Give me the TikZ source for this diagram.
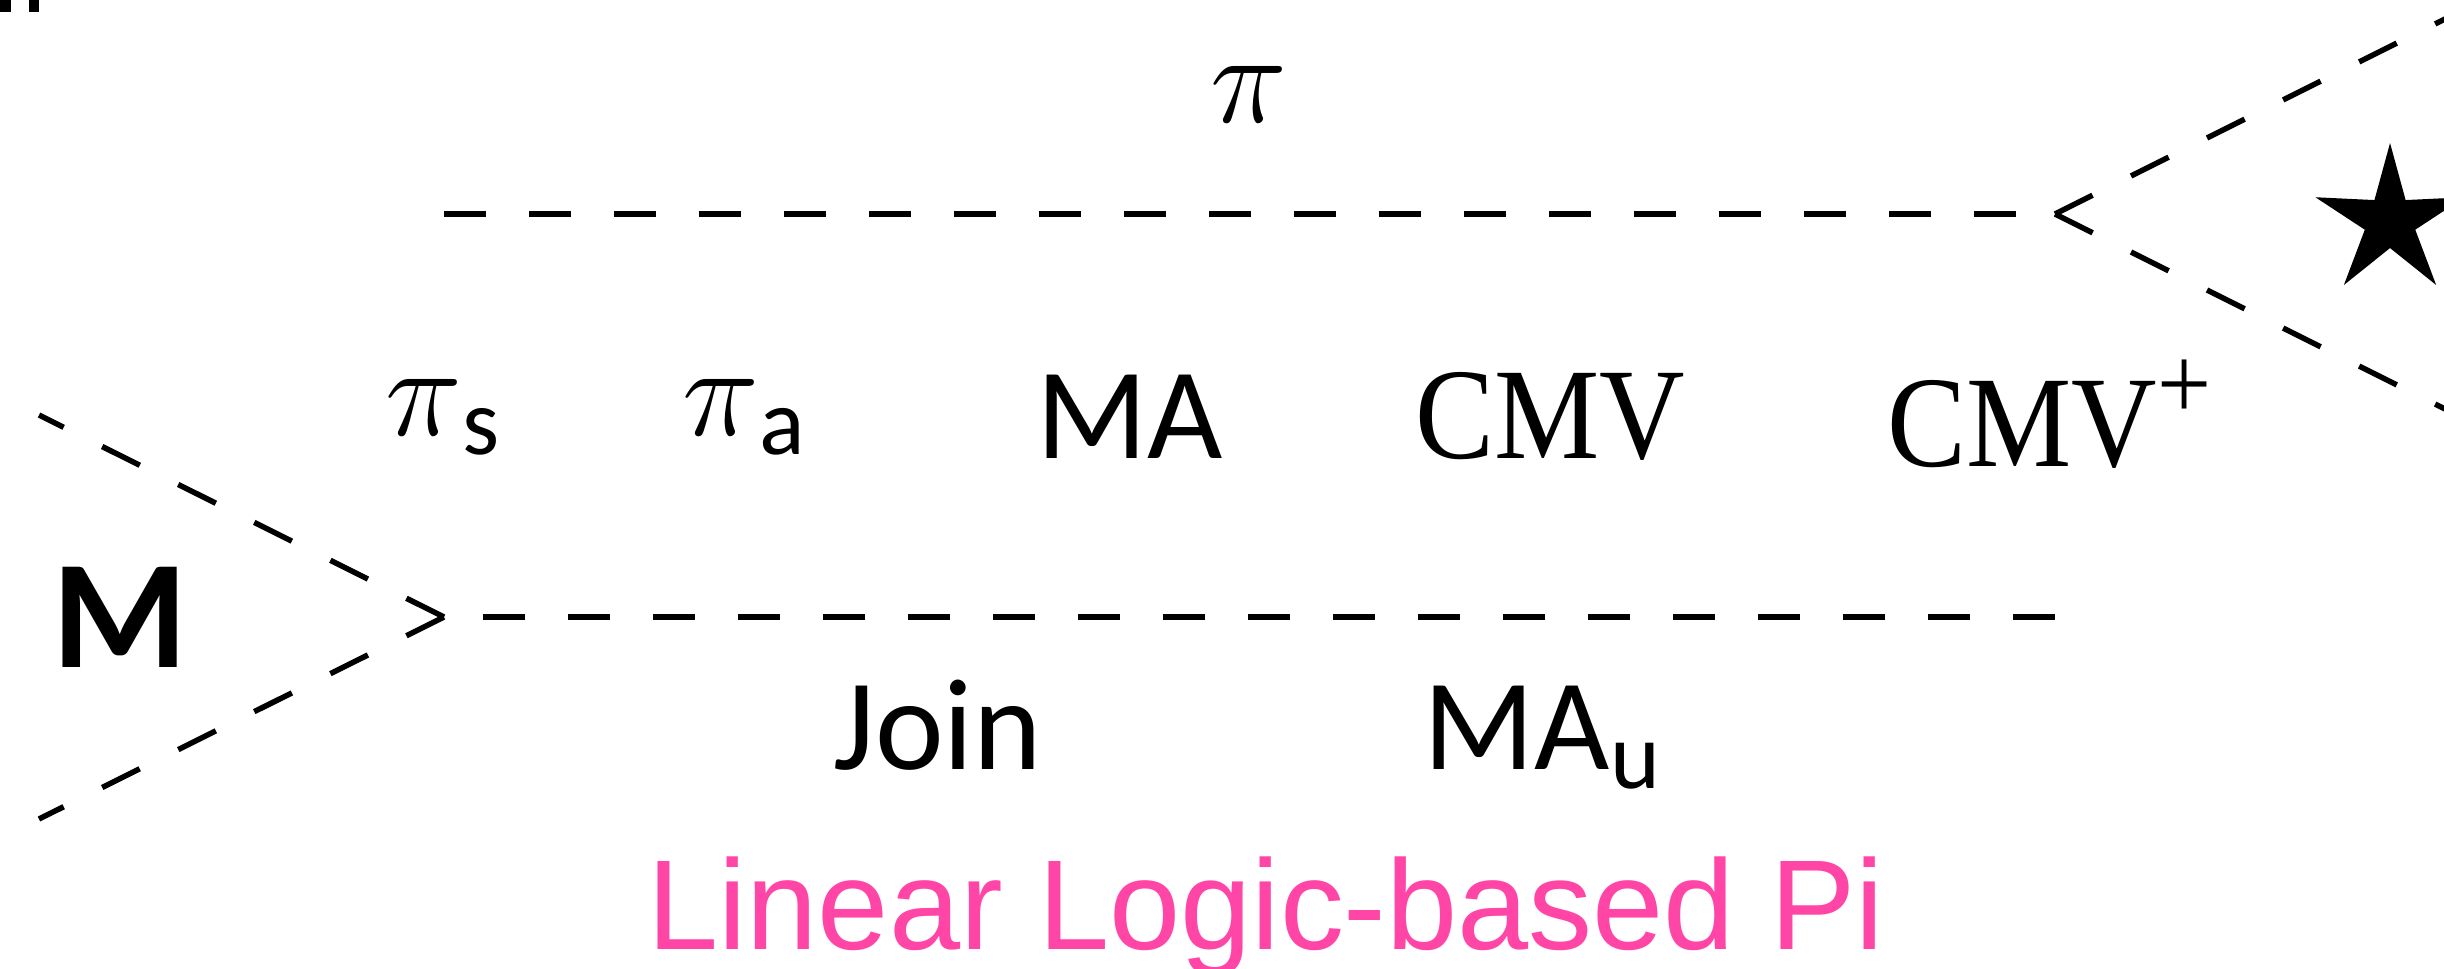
\RequirePackage{fix-cm}
\documentclass[tikz,border=0pt]{standalone}
\usepackage{amsmath}
\usepackage{fontspec}
\setmainfont{Carlito}
\newfontfamily\cmvfont[FakeStretch=0.91]{Liberation Serif}
\newfontfamily\capfont{Liberation Sans}
\usepackage{tikz}
\usetikzlibrary{shapes.geometric}
\definecolor{logicpink}{HTML}{FF45A6}
\newcommand\lowidx[1]{\raisebox{-1.9mm}{\fontsize{27}{30}\selectfont #1}}

\begin{document}
\begin{tikzpicture}[x=0.1mm, y=-0.1mm,
  leg/.style={line width=0.55mm, dash pattern=on 4.2mm off 4.3mm},
  lbl/.style={inner sep=0pt, font=\fontsize{37}{44}\selectfont},
]
  \useasboundingbox (0,0) rectangle (2444,968);
  \clip (0,0) rectangle (2444,968);
  % scraps at the top edge
  \fill (0,0) rectangle (11,12);
  \fill (29,0) rectangle (39,12);
  % vertices and free ends
  \coordinate (vin) at (444,617);
  \coordinate (vout) at (2055,214);
  \coordinate (inup) at (39,415);
  \coordinate (indown) at (39,819);
  \coordinate (topend) at (444,214);
  \coordinate (botend) at (2055,617);
  \coordinate (outup) at (2505,-11);
  \coordinate (outdown) at (2505,439);
  % lines
  \draw[leg] (vin) -- (inup);
  \draw[leg] (vin) -- (indown);
  \draw[leg] (topend) -- (vout);
  \draw[leg] (botend) -- (vin);
  \draw[leg] (vout) -- (outup);
  \draw[leg] (vout) -- (outdown);
  % labels
  \node[lbl, anchor=base, font=\bfseries\fontsize{44}{52}\selectfont] (m) at (120,667) {M};
  \node[lbl, anchor=base] (pi) at (1249,122) {$\pi$};
  \node[lbl, anchor=base west] (pis) at (385,435) {$\pi$\lowidx{s}};
  \node[lbl, anchor=base west] (pia) at (682,435) {$\pi$\lowidx{a}};
  \node[lbl, anchor=base] (ma) at (1130,458) {MA};
  \node[lbl, anchor=base west, font=\cmvfont\fontsize{37}{44}\selectfont] (cmv) at (1415,458) {CMV};
  \node[lbl, anchor=base west, font=\cmvfont\fontsize{37}{44}\selectfont] (cmvp) at (1887,466)
    {CMV\raisebox{4.7mm}{\fontsize{30}{30}\selectfont +}};
  \node[lbl, anchor=base west] (join) at (833,769) {Join};
  \node[lbl, anchor=base west] (mau) at (1423,769) {MA\lowidx{u}};
  \node[star, star points=5, star point ratio=2.96, fill, minimum size=15.7mm,
    inner sep=0pt] (star) at (2390,221.5) {};
  \node[inner sep=0pt, anchor=base, text=logicpink,
    font=\capfont\fontsize{36.4}{44}\selectfont] (cap) at (1266,949) {Linear Logic-based Pi};
\end{tikzpicture}
\end{document}
